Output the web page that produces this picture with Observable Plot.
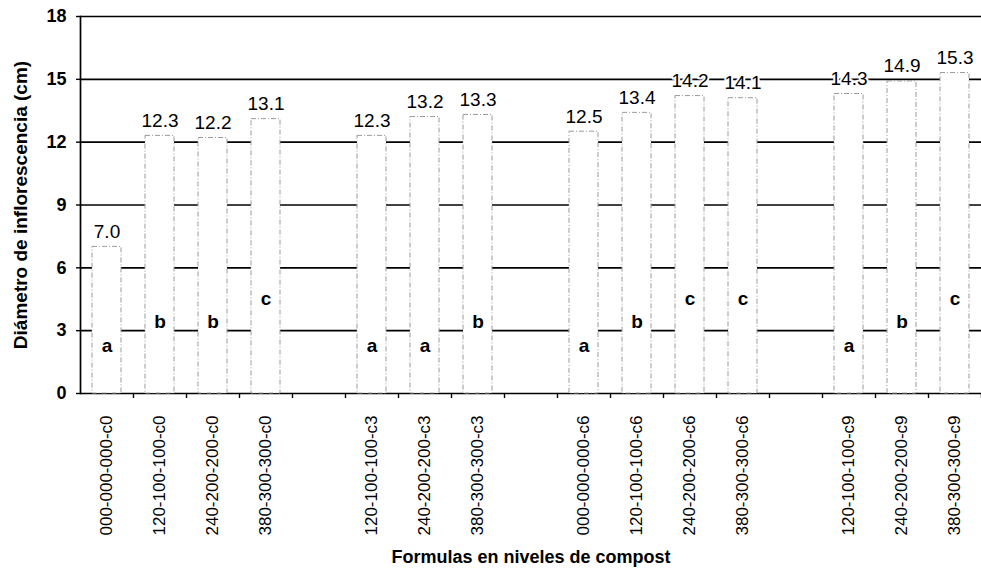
<!DOCTYPE html>
<html><head><meta charset="utf-8">
<script src="https://cdn.jsdelivr.net/npm/d3@7"></script>
<script src="https://cdn.jsdelivr.net/npm/@observablehq/plot@0.6"></script>
<style>body{margin:0;background:#fff} svg{display:block}</style>
</head><body><div id="chart"></div>
<script>
// Slots along the x axis (blank strings are the empty gaps between compost levels)
const categories = [
  "000-000-000-c0","120-100-100-c0","240-200-200-c0","380-300-300-c0"," ",
  "120-100-100-c3","240-200-200-c3","380-300-300-c3","  ",
  "000-000-000-c6","120-100-100-c6","240-200-200-c6","380-300-300-c6","   ",
  "120-100-100-c9","240-200-200-c9","380-300-300-c9"
];
const formulas = [
  "000-000-000-c0","120-100-100-c0","240-200-200-c0","380-300-300-c0",
  "120-100-100-c3","240-200-200-c3","380-300-300-c3",
  "000-000-000-c6","120-100-100-c6","240-200-200-c6","380-300-300-c6",
  "120-100-100-c9","240-200-200-c9","380-300-300-c9"
];
const values = [7.0,12.3,12.2,13.1, 12.3,13.2,13.3, 12.5,13.4,14.2,14.1, 14.3,14.9,15.3];
const letters = ["a","b","b","c", "a","a","b", "a","b","c","c", "a","b","c"];
const yTicks = [0,3,6,9,12,15,18];
const xTitle = "Formulas en niveles de compost";
const yTitle = "Diámetro de inflorescencia (cm)";

const data = formulas.map((f,i)=>({formula:f, value:values[i], letter:letters[i]}));
const letterY = {a:2.25, b:3.4, c:4.5};
const W=981, H=577, mL=80, mR=0, mT=16, mB=184;
const step = (W-mL-mR)/categories.length;

const chart = Plot.plot({
  width:W, height:H, marginLeft:mL, marginRight:mR, marginTop:mT, marginBottom:mB,
  style:{fontFamily:"'Liberation Sans', Arial, sans-serif", fontSize:"17px", color:"#000", background:"#fff", overflow:"visible"},
  x:{type:"band", domain:categories, paddingInner:0.45, paddingOuter:0.225, axis:null},
  y:{domain:[0,18], axis:null},
  marks:[
    Plot.ruleY(yTicks, {stroke:"#000", strokeWidth:1.7}),
    Plot.barY(data, {x:"formula", y:"value", fill:"#fff", stroke:"#9a9a9a", strokeWidth:1, strokeDasharray:"5 2 1 2"}),
    Plot.frame({anchor:"left", stroke:"#000", strokeWidth:1.7}),
    Plot.axisY({ticks:yTicks, tickSize:4, tickPadding:10, fontWeight:"bold", fontSize:18, label:null, strokeWidth:1.4}),
    Plot.axisX({ticks:categories, tickSize:5, tickFormat:()=>"", dx:step/2, label:null, strokeWidth:1.4}),
    Plot.axisX({tickSize:0, tickPadding:22, tickRotate:-90, tickFormat:d=>d.trim(), label:null, fontSize:17}),
    Plot.text(data, {x:"formula", y:"value", text:d=>d.value.toFixed(1), lineAnchor:"bottom", dy:-9, stroke:"#fff", strokeWidth:4, fill:"#000", fontSize:19}),
    Plot.text(data, {x:"formula", y:d=>letterY[d.letter], text:"letter", fontSize:19, fontWeight:"bold"}),
    Plot.text([yTitle], {frameAnchor:"left", textAnchor:"middle", rotate:-90, dx:-60, fontWeight:"bold", fontSize:19}),
    Plot.text([xTitle], {frameAnchor:"bottom", textAnchor:"middle", dy:169, fontWeight:"bold", fontSize:18, letterSpacing:"-0.5px"})
  ]
});
document.getElementById("chart").append(chart);
</script>
</body></html>
